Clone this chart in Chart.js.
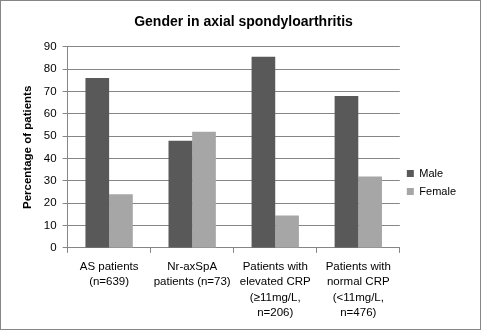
<!DOCTYPE html>
<html>
<head>
<meta charset="utf-8">
<script src="https://cdn.jsdelivr.net/npm/chart.js@4/dist/chart.umd.min.js"></script>
<style>
  html, body { margin: 0; padding: 0; background: #fff; }
  #wrap { width: 481px; height: 330px; box-sizing: border-box; border: 1px solid #868686; position: relative; }
  canvas { display: block; }
</style>
</head>
<body>
<div id="wrap"><canvas id="genderchart" width="479" height="328"></canvas></div>
<script>
const categories = [
  ['AS patients', '(n=639)'],
  ['Nr-axSpA', 'patients (n=73)'],
  ['Patients with', 'elevated CRP', '(\u226511mg/L,', 'n=206)'],
  ['Patients with', 'normal CRP', '(<11mg/L,', 'n=476)']
]
const maleValues = [ 76, 48, 85.5, 68 ]
const femaleValues = [ 24, 52, 14.5, 32 ]
const yTicks = [ 0, 10, 20, 30, 40, 50, 60, 70, 80, 90 ]

const fontFamily = '"Liberation Sans", Arial, sans-serif'
const gridGray = '#868686'

const data = {
  labels: categories,
  datasets: [
    {
      label: 'Male',
      data: maleValues,
      backgroundColor: '#595959',
      borderWidth: 0,
      categoryPercentage: 0.57,
      barPercentage: 1.0
    },
    {
      label: 'Female',
      data: femaleValues,
      backgroundColor: '#a6a6a6',
      borderWidth: 0,
      categoryPercentage: 0.57,
      barPercentage: 1.0
    }
  ]
};

const config = {
  type: 'bar',
  data: data,
  options: {
    responsive: false,
    animation: false,
    layout: { padding: { top: 3, left: 20, right: 14, bottom: 2 } },
    plugins: {
      title: {
        display: true,
        text: 'Gender in axial spondyloarthritis',
        color: '#000',
        font: { family: fontFamily, size: 14, weight: 'bold' },
        padding: { top: 10, bottom: 16 }
      },
      legend: {
        position: 'right',
        align: 'center',
        title: {
          display: true,
          text: ' ',
          font: { size: 10 },
          padding: { top: 11, bottom: 11 }
        },
        labels: {
          color: '#000',
          font: { family: fontFamily, size: 11 },
          boxWidth: 7,
          boxHeight: 7,
          padding: 7
        }
      },
      tooltip: { enabled: false }
    },
    scales: {
      x: {
        grid: {
          display: true,
          drawOnChartArea: false,
          drawTicks: true,
          tickLength: 5,
          color: gridGray,
          offset: true
        },
        border: { color: gridGray, width: 1 },
        ticks: {
          color: '#000',
          font: { family: fontFamily, size: 11.5, lineHeight: 1.35 },
          maxRotation: 0,
          autoSkip: false,
          padding: 6
        }
      },
      y: {
        min: 0,
        max: 90,
        afterBuildTicks: (axis) => { axis.ticks = yTicks.map(v => ({ value: v })) },
        grid: { color: gridGray, tickLength: 5 },
        border: { color: gridGray, width: 1 },
        ticks: {
          color: '#000',
          font: { family: fontFamily, size: 11.5 },
          padding: 6
        },
        title: {
          display: true,
          text: 'Percentage of patients',
          color: '#000',
          font: { family: fontFamily, size: 11.5, weight: 'bold' },
          padding: { top: 0, bottom: 3 }
        }
      }
    }
  }
};

const myChart = new Chart(
  document.getElementById('genderchart'),
  config
)
</script>
</body>
</html>
